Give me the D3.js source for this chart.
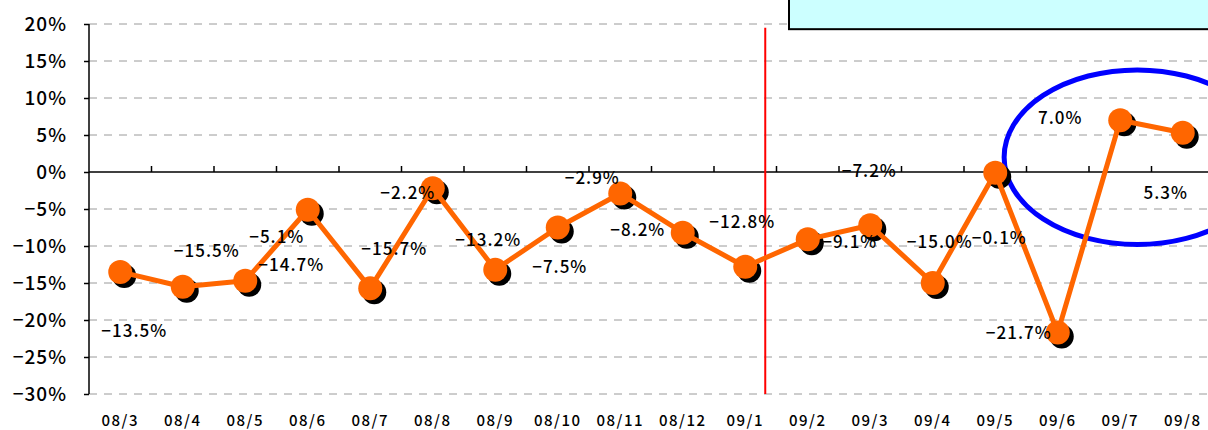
<!DOCTYPE html>
<html>
<head>
<meta charset="utf-8">
<script src="https://cdn.jsdelivr.net/npm/d3@7"></script>
<style>
  body { margin: 0; background: #fff; }
  svg { display: block; }
  text { font-family: "Noto Sans CJK JP", "Noto Sans", sans-serif; fill: #000; }
</style>
</head>
<body>
<svg id="chart"></svg>
<script>
// categories (year/month) and monthly change in %
const months = ["08/3", "08/4", "08/5", "08/6", "08/7", "08/8", "08/9", "08/10", "08/11",
  "08/12", "09/1", "09/2", "09/3", "09/4", "09/5", "09/6", "09/7", "09/8"];
const changes = [-13.5, -15.5, -14.7, -5.1, -15.7, -2.2, -13.2, -7.5, -2.9,
  -8.2, -12.8, -9.1, -7.2, -15.0, -0.1, -21.7, 7.0, 5.3];
const yTicks = [20, 15, 10, 5, 0, -5, -10, -15, -20, -25, -30];

// where each value label sits relative to its point (px)
const labelShift = [[14, 59], [24, -36], [46, -16], [-31, 27], [24, -39], [-25, 5], [-7, -30],
  [2, 40], [-28, -15], [-45, -3], [-3, -45], [42, 3], [-1, -54], [7, -41], [4, 65],
  [-39, 0], [-60, -2], [-17, 60]];

const svgWidth = 1208, svgHeight = 430;
const margin = {top: 24, left: 89, bottom: 36};

const svg = d3.select("#chart")
  .attr("width", svgWidth)
  .attr("height", svgHeight);

const x = d3.scaleBand()
  .domain(months)
  .range([margin.left, margin.left + 62.5 * months.length]);

const y = d3.scaleLinear()
  .domain([-30, 20])
  .range([svgHeight - margin.bottom, margin.top]);

const fmt = v => (v < 0 ? "\u2212" : "") + Math.abs(v) + "%";
const fmt1 = v => (v < 0 ? "\u2212" : "") + Math.abs(v).toFixed(1) + "%";
const cx = d => x(d) + x.bandwidth() / 2;

// dashed grid
svg.append("g")
  .selectAll("line")
  .data(yTicks.filter(t => t !== 0))
  .join("line")
  .attr("x1", margin.left)
  .attr("x2", svgWidth)
  .attr("y1", d => y(d))
  .attr("y2", d => y(d))
  .attr("stroke", "#9a9a9a")
  .attr("stroke-width", 1)
  .attr("stroke-dasharray", "8,7");

// y axis
const yAxis = svg.append("g")
  .attr("transform", "translate(" + margin.left + ",0)")
  .call(d3.axisLeft(y).tickValues(yTicks).tickFormat(fmt).tickSize(5).tickPadding(17));
yAxis.select(".domain").attr("stroke", "#000").attr("stroke-width", 1.5).attr("d",
  "M0," + y(20) + "V" + y(-30));
yAxis.selectAll(".tick line").attr("stroke", "#000").attr("stroke-width", 1.5);
yAxis.selectAll(".tick text")
  .style("font-family", "'Noto Sans CJK JP', sans-serif")
  .style("font-size", "19px")
  .style("font-weight", "500")
  .attr("letter-spacing", "1px")
  .attr("fill", "#000");

// zero line with category ticks
const xAxis = svg.append("g")
  .attr("transform", "translate(0," + y(0) + ")")
  .call(d3.axisTop(x).tickSize(6).tickFormat(""));
xAxis.selectAll(".tick")
  .attr("transform", d => "translate(" + (x(d) + x.bandwidth()) + ",0)");
xAxis.selectAll(".tick line").attr("stroke", "#000").attr("stroke-width", 1.5);
xAxis.select(".domain").attr("stroke", "#000").attr("stroke-width", 1.5)
  .attr("d", "M" + margin.left + ",0H" + svgWidth);

// category labels under the plot
svg.append("g")
  .selectAll("text")
  .data(months)
  .join("text")
  .attr("x", d => cx(d))
  .attr("y", y(-30) + 27)
  .attr("dy", "0.35em")
  .attr("text-anchor", "middle")
  .attr("letter-spacing", "1.5px")
  .style("font-size", "15px")
  .style("font-weight", "500")
  .text(d => d);

// red separator between 09/1 and 09/2
svg.append("line")
  .attr("x1", x("09/2") - x.bandwidth() * 0.18)
  .attr("x2", x("09/2") - x.bandwidth() * 0.18)
  .attr("y1", y(19.5))
  .attr("y2", y(-30))
  .attr("stroke", "#ff0000")
  .attr("stroke-width", 2);

// cyan box at the top right
svg.append("rect")
  .attr("x", x("09/2") + x.bandwidth() * 0.2)
  .attr("y", -3)
  .attr("width", svgWidth)
  .attr("height", y(19.3) + 3)
  .attr("fill", "#ccffff")
  .attr("stroke", "#000")
  .attr("stroke-width", 2);

// blue ellipse around the last two months
svg.append("ellipse")
  .attr("cx", cx("09/7") + 17)
  .attr("cy", y(2))
  .attr("rx", x.bandwidth() * 2.13)
  .attr("ry", y(0) - y(11.8))
  .attr("fill", "none")
  .attr("stroke", "#0000ff")
  .attr("stroke-width", 5);

const pts = months.map((m, i) => ({m: m, v: changes[i], s: labelShift[i]}));

// marker shadows
svg.append("g")
  .selectAll("circle")
  .data(pts)
  .join("circle")
  .attr("cx", d => cx(d.m) + 4)
  .attr("cy", d => y(d.v) + 4)
  .attr("r", 12)
  .attr("fill", "#000");

const line = d3.line()
  .x(d => cx(d.m))
  .y(d => y(d.v));

svg.append("path")
  .datum(pts)
  .attr("fill", "none")
  .attr("stroke", "#ff6600")
  .attr("stroke-width", 5)
  .attr("stroke-linejoin", "round")
  .attr("d", line);

svg.append("g")
  .selectAll("circle")
  .data(pts)
  .join("circle")
  .attr("cx", d => cx(d.m))
  .attr("cy", d => y(d.v))
  .attr("r", 12)
  .attr("fill", "#ff6600");

// value labels
svg.append("g")
  .selectAll("text")
  .data(pts)
  .join("text")
  .attr("x", d => cx(d.m) + d.s[0])
  .attr("y", d => y(d.v) + d.s[1])
  .attr("dy", "0.35em")
  .attr("text-anchor", "middle")
  .attr("letter-spacing", "1px")
  .style("font-size", "17px")
  .style("font-weight", "500")
  .text(d => fmt1(d.v));
</script>
</body>
</html>
